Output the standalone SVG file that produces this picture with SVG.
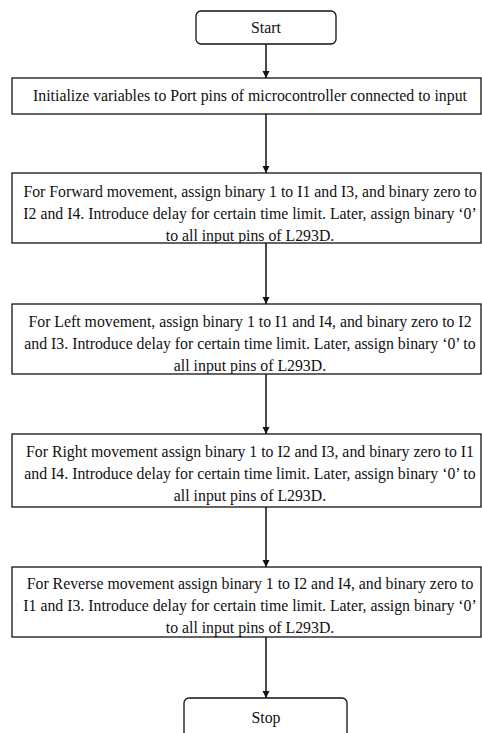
<svg xmlns="http://www.w3.org/2000/svg" width="482" height="733" viewBox="0 0 482 733">
<style>
.box{fill:#fff;stroke:#111;stroke-width:1.3}
.t{font-family:'Liberation Serif','Times New Roman',Times,serif;font-size:15.8px;fill:#111;text-anchor:middle}
.c{stroke:#111;stroke-width:1.5;fill:none;marker-end:url(#ah)}
</style>
<defs>
<marker id="ah" viewBox="0 0 8 8" refX="8" refY="4" markerWidth="5" markerHeight="5" orient="auto" markerUnits="strokeWidth">
<path d="M0,0 L8,4 L0,8 Z" fill="#111"/>
</marker>
<clipPath id="cf"><rect x="12" y="173" width="469" height="70"/></clipPath>
<clipPath id="cl"><rect x="12" y="304" width="469" height="70"/></clipPath>
<clipPath id="cr"><rect x="12" y="434" width="469" height="73"/></clipPath>
<clipPath id="cv"><rect x="12" y="567" width="469" height="70"/></clipPath>
</defs>
<g id="connectors">
<line class="c" x1="266" y1="44" x2="266" y2="78"/>
<line class="c" x1="266" y1="114" x2="266" y2="173"/>
<line class="c" x1="266" y1="243" x2="266" y2="304"/>
<line class="c" x1="266" y1="374" x2="266" y2="434"/>
<line class="c" x1="266" y1="507" x2="266" y2="567"/>
<line class="c" x1="266" y1="637" x2="266" y2="698"/>
</g>
<g id="start">
<rect class="box" x="196" y="11" width="140" height="33" rx="5"/>
<text class="t" x="266" y="33">Start</text>
</g>
<g id="init">
<rect class="box" x="12" y="78" width="469" height="36"/>
<text class="t" x="250" y="101">Initialize variables to Port pins of microcontroller connected to input</text>
</g>
<g id="forward">
<rect class="box" x="12" y="173" width="469" height="70"/>
<g clip-path="url(#cf)">
<text class="t" x="250" y="197">For Forward movement, assign binary 1 to I1 and I3, and binary zero to</text>
<text class="t" x="250" y="219">I2 and I4. Introduce delay for certain time limit. Later, assign binary ‘0’</text>
<text class="t" x="250" y="241">to all input pins of L293D.</text>
</g>
</g>
<g id="left">
<rect class="box" x="12" y="304" width="469" height="70"/>
<g clip-path="url(#cl)">
<text class="t" x="250" y="327">For Left movement, assign binary 1 to I1 and I4, and binary zero to I2</text>
<text class="t" x="250" y="349">and I3. Introduce delay for certain time limit. Later, assign binary ‘0’ to</text>
<text class="t" x="250" y="371">all input pins of L293D.</text>
</g>
</g>
<g id="right">
<rect class="box" x="12" y="434" width="469" height="73"/>
<g clip-path="url(#cr)">
<text class="t" x="250" y="457">For Right movement assign binary 1 to I2 and I3, and binary zero to I1</text>
<text class="t" x="250" y="479">and I4. Introduce delay for certain time limit. Later, assign binary ‘0’ to</text>
<text class="t" x="250" y="501">all input pins of L293D.</text>
</g>
</g>
<g id="reverse">
<rect class="box" x="12" y="567" width="469" height="70"/>
<g clip-path="url(#cv)">
<text class="t" x="250" y="589">For Reverse movement assign binary 1 to I2 and I4, and binary zero to</text>
<text class="t" x="250" y="611">I1 and I3. Introduce delay for certain time limit. Later, assign binary ‘0’</text>
<text class="t" x="250" y="633">to all input pins of L293D.</text>
</g>
</g>
<g id="stop">
<rect class="box" x="184" y="698" width="163" height="50" rx="5"/>
<text class="t" x="266" y="723">Stop</text>
</g>
</svg>
